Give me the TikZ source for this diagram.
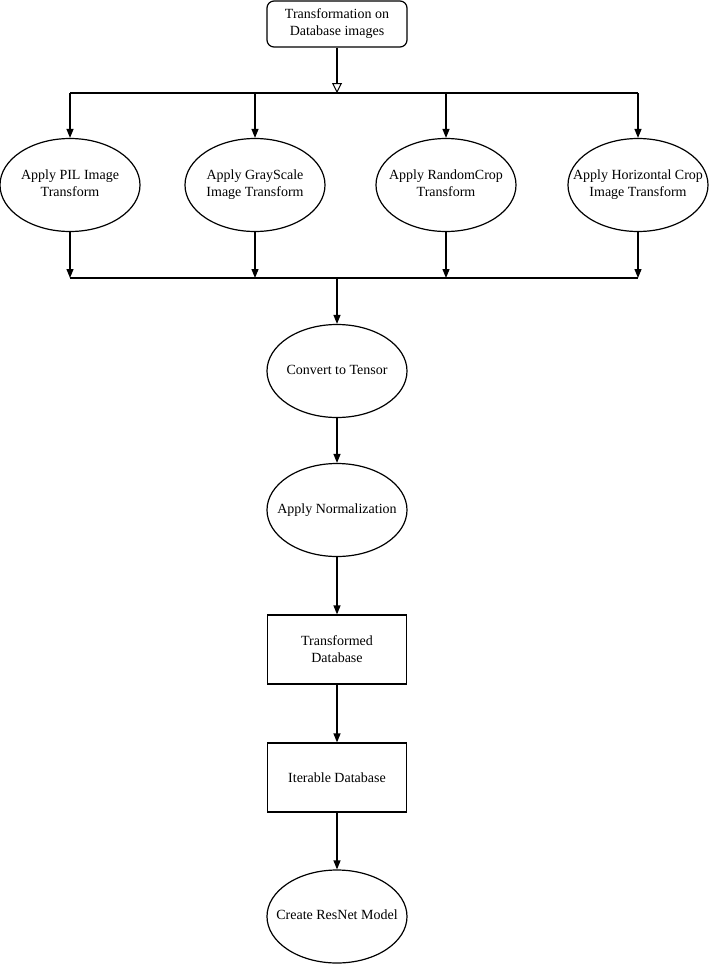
\documentclass[tikz,border=0pt]{standalone}
\usepackage{fontspec}
\setmainfont{Liberation Serif}
\usetikzlibrary{shapes.geometric,arrows.meta}
\newcommand\elltext[1]{\makebox[0pt]{\begin{tabular}{@{}c@{}}#1\end{tabular}}}
\begin{document}
\begin{tikzpicture}[x=1pt,y=-1pt,line width=1.2pt,
  font=\fontsize{14}{17}\selectfont,
  ell/.style={draw,ellipse,minimum width=140pt,minimum height=93pt,inner sep=0pt,align=center},
  rbox/.style={draw,rectangle,minimum width=139pt,minimum height=69pt,inner sep=0pt,align=center},
  topbox/.style={draw,rectangle,rounded corners=7pt,minimum width=140pt,minimum height=46pt,inner sep=0pt,align=center},
  arr/.style={-{Triangle[length=9pt,width=7pt]}},
  openarr/.style={-{Triangle[open,length=10pt,width=10pt,line width=1pt]}}]
\useasboundingbox (0,0) rectangle (709,964);
\node[topbox] (top) at (337,24) {Transformation on\\Database images};
\node[ell] (e1) at (70,185) {\elltext{Apply PIL Image\\Transform}};
\node[ell] (e2) at (255,185) {\elltext{Apply GrayScale\\Image Transform}};
\node[ell] (e3) at (446,185) {\elltext{Apply RandomCrop\\Transform}};
\node[ell] (e4) at (638,185) {\elltext{Apply Horizontal Crop\\Image Transform}};
\node[ell] (conv) at (337,371) {\elltext{Convert to Tensor}};
\node[ell] (norm) at (337,510) {\elltext{Apply Normalization}};
\node[rbox] (tdb) at (337,649.5) {Transformed\\Database};
\node[rbox] (idb) at (337,777.5) {Iterable Database};
\node[ell] (res) at (337,916.5) {\elltext{Create ResNet Model}};
% top bus
\coordinate (tb) at (337,93);
\coordinate (tb1) at (e1.center |- tb);
\coordinate (tb2) at (e2.center |- tb);
\coordinate (tb3) at (e3.center |- tb);
\coordinate (tb4) at (e4.center |- tb);
\draw[openarr] (top) -- (tb);
\draw (tb1) -- (tb4);
\draw[arr] (tb1) -- (e1);
\draw[arr] (tb2) -- (e2);
\draw[arr] (tb3) -- (e3);
\draw[arr] (tb4) -- (e4);
% bottom bus
\coordinate (bb) at (337,278);
\coordinate (bb1) at (e1.center |- bb);
\coordinate (bb2) at (e2.center |- bb);
\coordinate (bb3) at (e3.center |- bb);
\coordinate (bb4) at (e4.center |- bb);
\draw (bb1) -- (bb4);
\draw[arr] (e1) -- (bb1);
\draw[arr] (e2) -- (bb2);
\draw[arr] (e3) -- (bb3);
\draw[arr] (e4) -- (bb4);
\draw[arr] (bb) -- (conv);
\draw[arr] (conv) -- (norm);
\draw[arr] (norm) -- (tdb);
\draw[arr] (tdb) -- (idb);
\draw[arr] (idb) -- (res);
\end{tikzpicture}
\end{document}
